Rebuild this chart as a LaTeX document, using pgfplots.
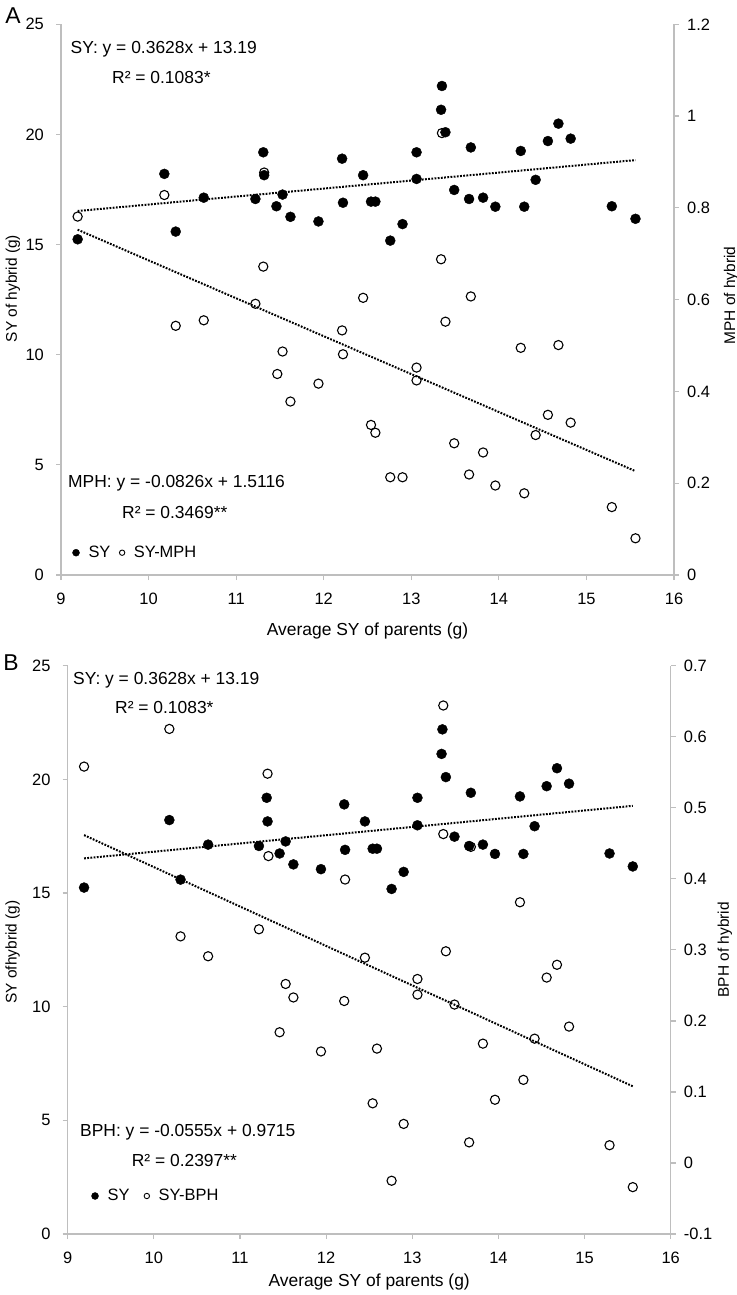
\documentclass[border=0pt]{standalone}
\usepackage{pgfplots}
\pgfplotsset{compat=1.18}
\usepackage{pgfplotstable}
\usepackage{fontspec}
\setmainfont{Liberation Sans}
\definecolor{axgray}{RGB}{190,190,190}

\pgfplotstableread{
x y
9.19 15.24
10.18 18.21
10.31 15.59
10.63 17.13
11.22 17.07
11.31 19.19
11.32 18.15
11.46 16.74
11.53 17.27
11.62 16.26
11.94 16.05
12.21 18.90
12.22 16.90
12.45 18.15
12.54 16.95
12.59 16.95
12.76 15.18
12.90 15.93
13.06 19.19
13.06 17.98
13.34 21.12
13.35 22.20
13.39 20.10
13.49 17.48
13.66 17.07
13.68 19.41
13.82 17.13
13.96 16.72
14.25 19.25
14.29 16.72
14.42 17.94
14.56 19.70
14.68 20.49
14.82 19.81
15.29 16.74
15.56 16.17
}\sydata

\pgfplotstableread{
x y
9.19 0.781
10.18 0.828
10.31 0.543
10.63 0.555
11.22 0.591
11.31 0.672
11.32 0.877
11.47 0.438
11.53 0.487
11.62 0.378
11.94 0.417
12.21 0.533
12.22 0.481
12.45 0.604
12.54 0.327
12.59 0.310
12.76 0.213
12.90 0.213
13.06 0.452
13.06 0.424
13.34 0.688
13.35 0.963
13.39 0.552
13.49 0.287
13.66 0.219
13.68 0.607
13.82 0.267
13.96 0.195
14.25 0.495
14.29 0.178
14.42 0.305
14.56 0.349
14.68 0.501
14.82 0.332
15.29 0.148
15.56 0.080
}\mphdata

\pgfplotstableread{
x y
9.19 0.558
10.18 0.611
10.31 0.319
10.63 0.291
11.22 0.329
11.32 0.548
11.33 0.432
11.46 0.184
11.53 0.252
11.62 0.233
11.94 0.157
12.21 0.228
12.22 0.399
12.45 0.289
12.54 0.084
12.59 0.161
12.76 -0.025
12.90 0.055
13.06 0.259
13.06 0.237
13.36 0.644
13.36 0.463
13.39 0.298
13.49 0.223
13.66 0.029
13.68 0.445
13.82 0.168
13.96 0.089
14.25 0.367
14.29 0.117
14.42 0.175
14.56 0.261
14.68 0.279
14.82 0.192
15.29 0.025
15.56 -0.034
}\bphdata

\pgfplotsset{
  base/.style={
    scale only axis, anchor=south west,
    xmin=9, xmax=16, xtick={9,10,11,12,13,14,15,16},
    axis line style={draw=axgray, line width=1.2bp},
    every tick/.style={draw=axgray, line width=1.2bp},
    tick align=outside, major tick length=5bp,
    ticklabel style={font=\fontsize{16.5}{19}\selectfont, inner sep=0pt},
    /pgf/number format/assume math mode=true,
    scaled ticks=false,
    label style={font=\fontsize{15.5}{18}\selectfont},
  },
  leftax/.style={base, axis x line*=bottom, axis y line*=left,
    ymin=0, ymax=25, ytick={0,5,10,15,20,25},
    xticklabel style={yshift=-13bp},
    yticklabel style={xshift=-12bp},
    xlabel style={font=\fontsize{17.5}{20}\selectfont, anchor=center},
  },
  rightax/.style={base, axis x line=none, axis y line*=right,
    yticklabel style={xshift=8bp, anchor=west},
  },
  legfilled/.style={legend image code/.code={\draw[black, mark=*, mark size=3.5bp] plot coordinates {(0bp,0bp)};}},
  legopen/.style={legend image code/.code={\draw[black, line width=0.9bp, mark=o, mark size=2.7bp] plot coordinates {(0bp,0bp)};}},
}
\newcommand{\annfont}{\fontsize{17.5}{20}\selectfont}

\begin{document}
\begin{tikzpicture}
\path[use as bounding box] (0bp,0bp) rectangle (737bp,-1295bp);

% ---------------- Panel A ----------------
\node[font=\fontsize{23}{25}\selectfont] at (13bp,-16bp) {A};
\begin{axis}[leftax, at={(61bp,-575bp)}, width=613bp, height=550.7bp,
  xlabel={Average SY of parents (g)},
  xlabel style={at={(axis description cs:0.5,-0.1017)}},
  ylabel={SY of hybrid (g)},
  ylabel style={at={(axis description cs:-0.0783,0.52)}, anchor=center},
]
\addplot[only marks, mark=*, mark size=5bp, black] table {\sydata};
\addplot[black, line width=2bp, dash pattern=on 1.8bp off 1.4bp] coordinates {(9.19,16.524) (15.56,18.835)};
\node[anchor=west, font=\annfont, inner sep=0pt] at (rel axis cs:0.0155,0.955) {SY: y = 0.3628x + 13.19};
\node[anchor=west, font=\annfont, inner sep=0pt] at (rel axis cs:0.0832,0.9025) {R² = 0.1083*};
\node[anchor=west, font=\annfont, inner sep=0pt] at (rel axis cs:0.0114,0.167) {MPH: y = -0.0826x + 1.5116};
\node[anchor=west, font=\annfont, inner sep=0pt] at (rel axis cs:0.0995,0.1144) {R² = 0.3469**};
\end{axis}
\begin{axis}[rightax, at={(61bp,-575bp)}, width=613bp, height=550.7bp,
  ymin=0, ymax=1.2, ytick={0,0.2,0.4,0.6,0.8,1,1.2},
  ylabel={MPH of hybrid},
  ylabel style={at={(axis description cs:1.093,0.5075)}, anchor=center},
  legend columns=2,
  legend style={at={(axis description cs:0.0188,0.0405)}, anchor=west, draw=none, fill=none, inner sep=0pt, outer sep=0pt,
    font=\fontsize{16.5}{18}\selectfont,
    /tikz/every odd column/.append style={column sep=7bp},
    /tikz/every even column/.append style={column sep=7bp}},
]
\addplot[forget plot, only marks, mark=o, mark size=4.6bp, black, line width=1.1bp, mark options={fill=white}] table {\mphdata};
\addplot[forget plot, black, line width=2bp, dash pattern=on 1.8bp off 1.4bp] coordinates {(9.19,0.7525) (15.56,0.2263)};
\addlegendimage{legfilled}
\addlegendentry{SY}
\addlegendimage{legopen}
\addlegendentry{SY-MPH}
\end{axis}

% ---------------- Panel B ----------------
\node[font=\fontsize{23}{25}\selectfont] at (11bp,-663bp) {B};
\begin{axis}[leftax, at={(67.7bp,-1234bp)}, width=603bp, height=568.3bp,
  xlabel={Average SY of parents (g)},
  xlabel style={at={(axis description cs:0.5,-0.0845)}},
  ylabel={SY ofhybrid (g)},
  ylabel style={at={(axis description cs:-0.0915,0.496)}, anchor=center},
]
\addplot[only marks, mark=*, mark size=5bp, black] table {\sydata};
\addplot[black, line width=2bp, dash pattern=on 1.8bp off 1.4bp] coordinates {(9.19,16.524) (15.56,18.835)};
\node[anchor=west, font=\annfont, inner sep=0pt] at (rel axis cs:0.0088,0.975) {SY: y = 0.3628x + 13.19};
\node[anchor=west, font=\annfont, inner sep=0pt] at (rel axis cs:0.0784,0.9256) {R² = 0.1083*};
\node[anchor=west, font=\annfont, inner sep=0pt] at (rel axis cs:0.0204,0.1783) {BPH: y = -0.0555x + 0.9715};
\node[anchor=west, font=\annfont, inner sep=0pt] at (rel axis cs:0.106,0.1285) {R² = 0.2397**};
\end{axis}
\begin{axis}[rightax, at={(67.7bp,-1234bp)}, width=603bp, height=568.3bp,
  ymin=-0.1, ymax=0.7, ytick={-0.1,0,0.1,0.2,0.3,0.4,0.5,0.6,0.7},
  ylabel={BPH of hybrid},
  ylabel style={at={(axis description cs:1.09,0.5)}, anchor=center},
  legend columns=2,
  legend style={at={(axis description cs:0.0395,0.0669)}, anchor=west, draw=none, fill=none, inner sep=0pt, outer sep=0pt,
    font=\fontsize{16.5}{18}\selectfont,
    /tikz/every odd column/.append style={column sep=7.2bp},
    /tikz/every even column/.append style={column sep=12.5bp}},
]
\addplot[forget plot, only marks, mark=o, mark size=4.6bp, black, line width=1.1bp, mark options={fill=white}] table {\bphdata};
\addplot[forget plot, black, line width=2bp, dash pattern=on 1.8bp off 1.4bp] coordinates {(9.19,0.4615) (15.56,0.1079)};
\addlegendimage{legfilled}
\addlegendentry{SY}
\addlegendimage{legopen}
\addlegendentry{SY-BPH}
\end{axis}
\end{tikzpicture}
\end{document}
